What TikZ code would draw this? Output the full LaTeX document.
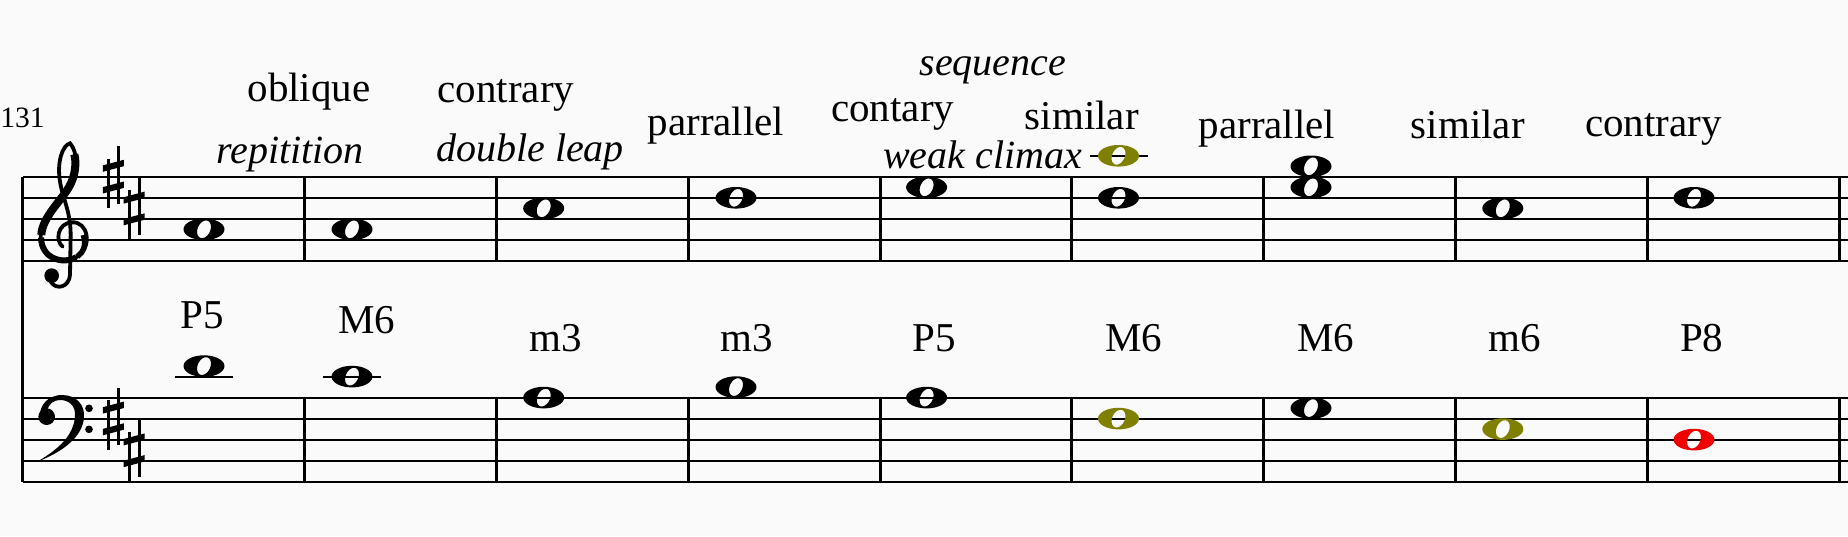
\documentclass[tikz,border=0pt]{standalone}
\usepackage{fontspec}
\setmainfont{Liberation Serif}
\definecolor{bgc}{RGB}{250,250,250}
\definecolor{olivenote}{RGB}{128,128,0}
\definecolor{rednote}{RGB}{240,0,0}
% whole note: x, y, colour
\newcommand\wnote[3]{%
  \fill[#3,even odd rule] (#1,#2) ellipse [x radius=20.5,y radius=10.8]
    plot[variable=\t,domain=0:360,samples=37]
    ({#1+6.3*cos(\t)*cos(25)+9.3*sin(\t)*sin(25)},{#2+6.3*cos(\t)*sin(25)-9.3*sin(\t)*cos(25)}) -- cycle;}
% ledger line: x, y
\newcommand\ledger[2]{\draw[staffline] (#1-29,#2) -- (#1+29,#2);}
% key-signature sharp: x, y
\newcommand\keysharp[2]{%
  \draw[line width=2.7pt] (#1-5,#2-18) -- (#1-5,#2+31.4);
  \draw[line width=2.7pt] (#1+5,#2-30.6) -- (#1+5,#2+27);
  \fill (#1-10.5,#2-11.2) -- (#1+10.5,#2-16.8) -- (#1+10.5,#2-10.4) -- (#1-10.5,#2-4.8) -- cycle;
  \fill (#1-10.5,#2+10.5) -- (#1+10.5,#2+4.9) -- (#1+10.5,#2+11.3) -- (#1-10.5,#2+16.9) -- cycle;}
\begin{document}
\begin{tikzpicture}[x=1pt,y=-1pt,
  staffline/.style={line width=1.8pt},
  barline/.style={line width=3pt},
  lbl/.style={inner sep=0pt,anchor=base,font=\fontsize{41}{48}\selectfont},
  ital/.style={inner sep=0pt,anchor=base,font=\fontsize{40}{48}\selectfont\itshape},
  numlbl/.style={inner sep=0pt,anchor=base west,font=\fontsize{29.5}{36}\selectfont}]
\fill[bgc] (0,0) rectangle (1848,536);
\useasboundingbox (0,0) rectangle (1848,536);

% staves
\foreach \y in {176.8,197.8,218.8,239.8,260.8,397.6,418.6,439.6,460.6,481.6}
  \draw[staffline] (22.6,\y) -- (1848,\y);
\draw[barline] (22.6,176.8) -- (22.6,481.6);
\foreach \x in {304.3,496,688,880,1071,1263,1455,1647,1839}{
  \draw[barline] (\x,176.8) -- (\x,260.8);
  \draw[barline] (\x,397.6) -- (\x,481.6);}

% treble clef
\begin{scope}[shift={(20,135)},scale=1/3]
  \draw[line width=3.8pt,line cap=round]
    (128,335) .. controls (105,318) and (112,265) .. (155,262)
    .. controls (205,258) and (218,335) .. (172,365)
    .. controls (130,392) and (62,372) .. (62,305)
    .. controls (62,250) and (120,200) .. (148,155)
    .. controls (172,115) and (175,50) .. (150,25)
    .. controls (128,30) and (110,80) .. (120,140)
    .. controls (128,190) and (152,230) .. (152,300)
    -- (150,420) .. controls (148,455) and (110,468) .. (92,440);
  \draw[line width=8pt]
    (64,300) .. controls (66,250) and (120,200) .. (146,158)
    .. controls (166,124) and (170,84) .. (163,58);
  \draw[line width=6pt]
    (168,367) .. controls (128,390) and (64,370) .. (63,308);
  \draw[line width=5.5pt]
    (190,300) .. controls (200,330) and (190,352) .. (172,365);
  \fill (95,422) circle (22);
\end{scope}

% bass clef
\begin{scope}[shift={(20,380)},scale=1/3]
  \fill (52,245) .. controls (120,205) and (160,165) .. (165,110)
    .. controls (168,75) and (145,60) .. (120,60)
    .. controls (100,60) and (88,72) .. (82,88)
    -- (60,100) .. controls (65,60) and (100,45) .. (125,45)
    .. controls (170,45) and (195,75) .. (192,112)
    .. controls (188,170) and (130,215) .. (52,245) -- cycle;
  \fill (80,110) circle (25);
  \fill (207,85) circle (11.5);
  \fill (207,148) circle (11.5);
\end{scope}

% key signatures
\keysharp{113.3}{176.6}
\keysharp{134.2}{208.4}
\keysharp{113.3}{418.4}
\keysharp{134.2}{450.2}

% treble notes
\wnote{204}{229.3}{black}
\wnote{352}{229.3}{black}
\wnote{543.7}{208.3}{black}
\wnote{736}{197.8}{black}
\wnote{926.6}{187.3}{black}
\ledger{1118.5}{155.8}
\wnote{1118.5}{155.8}{olivenote}
\wnote{1118.5}{197.8}{black}
\wnote{1311}{166.3}{black}
\wnote{1311}{187.3}{black}
\wnote{1502.8}{208.3}{black}
\wnote{1694}{197.8}{black}

% bass notes
\ledger{204}{376.6}
\wnote{204}{366.1}{black}
\ledger{352}{376.6}
\wnote{352}{376.6}{black}
\wnote{543.7}{397.6}{black}
\wnote{736}{387.1}{black}
\wnote{926.6}{397.6}{black}
\wnote{1118.5}{418.6}{olivenote}
\wnote{1311}{408.1}{black}
\wnote{1502.8}{429.1}{olivenote}
\wnote{1694}{439.6}{rednote}

% measure number
\node[numlbl] (t131) at (0.3,127.2) {131};

% motion labels
\node[lbl] (tobl) at (309,101.5) {oblique};
\node[ital] (trep) at (290,163.4) {repitition};
\node[lbl] (tcon1) at (506,102.6) {contrary};
\node[ital] (tdbl) at (530,161) {double leap};
\node[lbl] (tpar1) at (716,135.7) {parrallel};
\node[lbl] (tcont) at (892.7,121.4) {contary};
\node[ital] (tseq) at (992.8,75.9) {sequence};
\node[ital] (tweak) at (982.5,168.2) {weak climax};
\node[lbl] (tsim1) at (1081.8,129.9) {similar};
\node[lbl] (tpar2) at (1267,138.5) {parrallel};
\node[lbl] (tsim2) at (1467.8,138.5) {similar};
\node[lbl] (tcon2) at (1653.5,136.8) {contrary};

% interval labels
\node[lbl] (i1) at (202.5,328.2) {P5};
\node[lbl] (i2) at (367,333.3) {M6};
\node[lbl] (i3) at (555.6,351.5) {m3};
\node[lbl] (i4) at (746.6,351.5) {m3};
\node[lbl] (i5) at (934.4,351.5) {P5};
\node[lbl] (i6) at (1134,351.5) {M6};
\node[lbl] (i7) at (1325.8,351.5) {M6};
\node[lbl] (i8) at (1514.7,351.5) {m6};
\node[lbl] (i9) at (1701.7,351.5) {P8};
\end{tikzpicture}
\end{document}
